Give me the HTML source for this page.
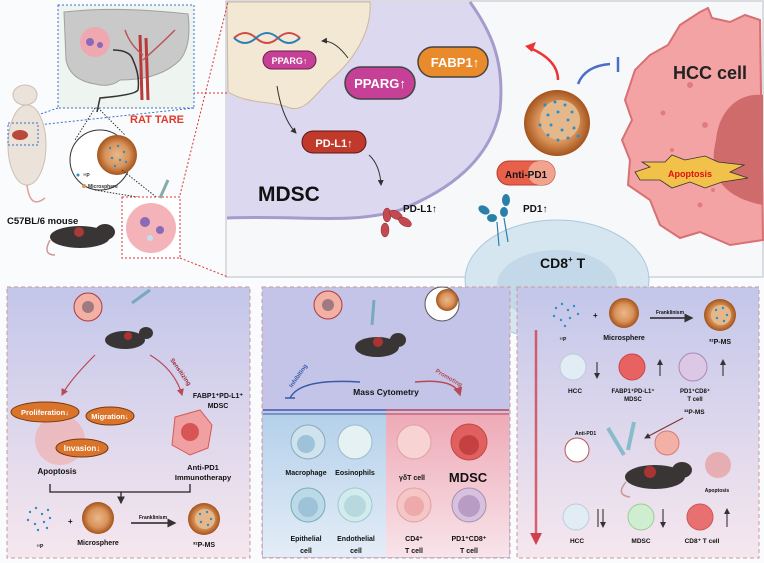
<!DOCTYPE html>
<html><head><meta charset="utf-8"><style>
html,body{margin:0;padding:0;background:#fafbfc}
svg{display:block}
text{font-family:"Liberation Sans",sans-serif;font-weight:bold}
</style></head><body>
<svg width="764" height="563" viewBox="0 0 764 563" xmlns="http://www.w3.org/2000/svg">
<defs>
<linearGradient id="pg" x1="0" y1="0" x2="0" y2="1"><stop offset="0" stop-color="#c3c6ea"/><stop offset="1" stop-color="#f6e7ee"/></linearGradient>
<linearGradient id="bl" x1="0" y1="0" x2="0" y2="1"><stop offset="0" stop-color="#b4d0ea"/><stop offset="1" stop-color="#e4edf7"/></linearGradient>
<linearGradient id="pk" x1="0" y1="0" x2="0" y2="1"><stop offset="0" stop-color="#eea9b6"/><stop offset="1" stop-color="#f8e4ea"/></linearGradient>
<radialGradient id="ms"><stop offset="0" stop-color="#e8b88a"/><stop offset="0.6" stop-color="#d9935a"/><stop offset="1" stop-color="#a4541c"/></radialGradient>
<marker id="ah" markerWidth="6" markerHeight="6" refX="5" refY="3" orient="auto"><path d="M0,0L6,3L0,6z" fill="#333"/></marker>
<marker id="ahr" markerWidth="6" markerHeight="6" refX="5" refY="3" orient="auto"><path d="M0,0L6,3L0,6z" fill="#b84a55"/></marker>
</defs>
<rect width="764" height="563" fill="#fafbfc"/>

<!-- TOP RIGHT PANEL -->
<rect x="226" y="1" width="537" height="276" fill="#f7f8fa" stroke="#cfd2d8" stroke-width="1.5"/>
<path d="M227,2 L470,2 C490,30 505,60 500,110 C490,160 450,190 400,210 C350,225 300,215 227,218 Z" fill="#dcd8ef"/>
<path d="M470,2 C490,30 505,60 500,110 C490,160 450,190 400,210 C350,225 300,215 227,218" fill="none" stroke="#a59ccd" stroke-width="3"/>
<path d="M227,2 L370,2 C372,30 355,60 330,80 C315,95 305,112 290,108 C270,100 250,105 228,92 Z" fill="#f2e8d3" stroke="#cdb79c" stroke-width="1"/>
<path d="M234,38 Q245,28 256,38 T278,38 T300,38" fill="none" stroke="#d04a4a" stroke-width="2"/>
<path d="M234,38 Q245,48 256,38 T278,38 T300,38" fill="none" stroke="#2d7fb8" stroke-width="2"/>
<rect x="263" y="51" width="53" height="18" rx="9" fill="#c54096" stroke="#6d2050"/>
<text x="289.5" y="64" font-size="9" fill="#fff" text-anchor="middle">PPARG↑</text>
<rect x="418" y="47" width="70" height="30" rx="15" fill="#e98a2b" stroke="#444" stroke-width="1.5"/>
<text x="455" y="67" font-size="13" fill="#fff" text-anchor="middle">FABP1↑</text>
<rect x="345" y="67" width="70" height="32" rx="16" fill="#c54096" stroke="#444" stroke-width="1.5"/>
<text x="380" y="88" font-size="13" fill="#fff" text-anchor="middle">PPARG↑</text>
<path d="M348,58 Q335,40 322,41" fill="none" stroke="#333" marker-end="url(#ah)"/>
<path d="M277,86 Q282,118 296,133" fill="none" stroke="#333" marker-end="url(#ah)"/>
<rect x="302" y="131" width="64" height="22" rx="11" fill="#c0392b" stroke="#5a1a15"/>
<text x="334" y="147" font-size="11" fill="#fff" text-anchor="middle">PD-L1↑</text>
<path d="M369,155 Q380,165 381,185" fill="none" stroke="#333" marker-end="url(#ah)"/>
<text x="258" y="201" font-size="21" fill="#111">MDSC</text>
<g fill="#c24a50" stroke="#8a2b30" stroke-width="0.5"><ellipse cx="387" cy="215" rx="4" ry="7"/><ellipse cx="385" cy="230" rx="4" ry="7"/><ellipse cx="396" cy="215" rx="7" ry="4" transform="rotate(30 396 215)"/><ellipse cx="405" cy="222" rx="7" ry="4" transform="rotate(30 405 222)"/></g>
<text x="403" y="212" font-size="10" fill="#111">PD-L1↑</text>
<ellipse cx="557" cy="280" rx="92" ry="60" fill="#d6e6f0" stroke="#a9c8de"/>
<ellipse cx="557" cy="285" rx="60" ry="35" fill="#c3d8e8"/>
<text x="540" y="268" font-size="14" fill="#111">CD8<tspan font-size="8" dy="-6">+</tspan><tspan dy="6"> T</tspan></text>
<g fill="#2b80aa"><ellipse cx="484" cy="210" rx="6" ry="4" transform="rotate(30 484 210)"/><ellipse cx="492" cy="218" rx="5" ry="4"/><ellipse cx="506" cy="200" rx="4" ry="6"/><ellipse cx="504" cy="212" rx="4" ry="5"/></g>
<path d="M497,222 L499,246 M504,218 L508,242" stroke="#2b80aa" stroke-width="1.2"/>
<text x="523" y="212" font-size="10" fill="#111">PD1↑</text>
<rect x="497" y="161" width="58" height="24" rx="12" fill="#e8604a" stroke="#b54030"/>
<rect x="528" y="161" width="27" height="24" rx="12" fill="#f2a38e"/>
<text x="526" y="178" font-size="10" fill="#111" text-anchor="middle">Anti-PD1</text>
<circle cx="557" cy="123" r="33" fill="url(#ms)"/>
<circle cx="560" cy="120" r="20" fill="#e5b88c"/>
<g fill="#2a8ec9"><circle cx="545" cy="105" r="1.5"/><circle cx="555" cy="102" r="1.5"/><circle cx="565" cy="105" r="1.5"/><circle cx="572" cy="112" r="1.5"/><circle cx="548" cy="115" r="1.5"/><circle cx="558" cy="112" r="1.5"/><circle cx="568" cy="120" r="1.5"/><circle cx="540" cy="125" r="1.5"/><circle cx="551" cy="125" r="1.5"/><circle cx="562" cy="130" r="1.5"/><circle cx="574" cy="128" r="1.5"/><circle cx="548" cy="135" r="1.5"/><circle cx="558" cy="140" r="1.5"/><circle cx="568" cy="138" r="1.5"/><circle cx="578" cy="136" r="1.5"/></g>
<path d="M558,80 Q558,60 530,48" fill="none" stroke="#e33" stroke-width="2.5"/><path d="M525,46 L536,42 L532,52z" fill="#e33"/>
<path d="M578,84 Q585,66 610,64" fill="none" stroke="#4b6fc8" stroke-width="2.5"/><line x1="618" y1="57" x2="618" y2="72" stroke="#4b6fc8" stroke-width="2.5"/>
<path d="M700,12 L708,8 L712,18 L730,22 L745,15 L760,20 L763,240 L730,245 L700,232 L680,238 L660,225 L650,200 L628,185 L630,160 L622,140 L632,120 L625,100 L635,70 L650,55 L668,45 L680,25 Z" fill="#f4a3a4" stroke="#d87074" stroke-width="2"/>
<path d="M763,95 C735,92 718,115 716,140 C710,165 712,195 763,205 Z" fill="#cf6b6b"/>
<g fill="#e07c7e"><circle cx="690" cy="85" r="3"/><circle cx="663" cy="113" r="2.5"/><circle cx="705" cy="125" r="3"/><circle cx="672" cy="150" r="2"/><circle cx="700" cy="205" r="2.5"/><circle cx="713" cy="190" r="2"/></g>
<text x="673" y="79" font-size="18" fill="#222">HCC cell</text>
<polygon points="635,172 650,167 642,162 665,162 672,155 685,160 705,156 718,162 744,165 730,172 748,178 722,182 705,188 690,182 672,188 660,180 640,180" fill="#f2c14a" stroke="#333" stroke-width="0.8"/>
<text x="690" y="177" font-size="9" fill="#d11" text-anchor="middle">Apoptosis</text>

<!-- TOP LEFT -->
<path d="M193,93 L228,93 M180,258 L228,277 M180,195 L228,2" stroke="#d33" stroke-dasharray="2,2" fill="none"/>
<rect x="58" y="5" width="136" height="103" fill="#eef4f0" stroke="#3a6fc8" stroke-dasharray="2,2"/>
<path d="M64,12 Q120,6 188,14 Q192,45 180,60 Q160,80 120,80 Q110,88 95,84 Q70,80 66,60 Z" fill="#c9c9c9" stroke="#a0a0a0"/>
<path d="M140,35 L142,100 M146,38 L148,100" stroke="#b83a3a" stroke-width="3"/>
<path d="M143,60 Q160,45 175,30 M143,55 Q130,45 125,30" stroke="#b8555a" stroke-width="1.5" fill="none"/>
<circle cx="95" cy="42" r="15" fill="#f0a8b0"/>
<circle cx="90" cy="42" r="4" fill="#8a6ab8"/><circle cx="100" cy="45" r="3" fill="#8a6ab8"/>
<path d="M113,50 Q130,50 133,60 Q140,75 138,90 Q135,95 100,98 L97,112" fill="none" stroke="#333" stroke-width="1.5"/>
<path d="M58,108 L8,125 M194,108 L38,125" stroke="#3a6fc8" stroke-dasharray="2,2"/>
<text x="130" y="123" font-size="11" fill="#e03a2a">RAT TARE</text>
<ellipse cx="27" cy="145" rx="19" ry="40" fill="#ebe2da" stroke="#cbbfb4"/>
<ellipse cx="25" cy="95" rx="12" ry="10" fill="#ebe2da" stroke="#cbbfb4"/>
<path d="M27,185 Q30,210 45,198" fill="none" stroke="#e0a09a" stroke-width="1.5"/>
<ellipse cx="20" cy="135" rx="8" ry="5" fill="#b84a3a"/>
<rect x="8" y="123" width="30" height="22" fill="none" stroke="#3a6fc8" stroke-dasharray="2,2"/>
<circle cx="100" cy="160" r="30" fill="#fff" stroke="#333"/>
<circle cx="117" cy="155" r="20" fill="url(#ms)"/>
<g fill="#2a8ec9"><circle cx="110" cy="148" r="1.2"/><circle cx="118" cy="146" r="1.2"/><circle cx="124" cy="152" r="1.2"/><circle cx="112" cy="158" r="1.2"/><circle cx="120" cy="160" r="1.2"/><circle cx="115" cy="166" r="1.2"/><circle cx="126" cy="162" r="1.2"/><circle cx="78" cy="175" r="1.5"/></g>
<text x="83" y="177" font-size="5" fill="#333">³²P</text>
<circle cx="84" cy="186" r="2" fill="#d9935a"/><text x="88" y="188" font-size="5" fill="#333">Microsphere</text>
<path d="M95,108 L75,140 M98,108 L125,135 M122,170 L160,200 M95,190 L155,200" stroke="#333" stroke-dasharray="1.5,1.5" fill="none"/>
<text x="7" y="224" font-size="9.5" fill="#111">C57BL/6 mouse</text>
<ellipse cx="80" cy="237" rx="30" ry="11" fill="#3a3535"/><ellipse cx="105" cy="232" rx="10" ry="8" fill="#3a3535"/>
<circle cx="79" cy="232" r="5" fill="#a83a3a"/><path d="M50,240 Q42,255 55,255" fill="none" stroke="#c99" stroke-width="1.5"/>
<rect x="122" y="197" width="58" height="61" fill="#fff" stroke="#d33" stroke-dasharray="2,2"/>
<circle cx="151" cy="228" r="25" fill="#f3b3b8"/>
<circle cx="145" cy="222" r="5" fill="#8a6ab8"/><circle cx="160" cy="230" r="4" fill="#8a6ab8"/><circle cx="150" cy="238" r="3" fill="#bfe0ee"/>
<path d="M160,198 L168,180" stroke="#8aa" stroke-width="3"/>

<!-- BOTTOM PANEL 1 -->
<rect x="7" y="287" width="243" height="271" fill="url(#pg)" stroke="#c99" stroke-dasharray="4,3"/>
<circle cx="88" cy="307" r="14" fill="#f3b0a5" stroke="#b03a3a"/><circle cx="88" cy="307" r="6" fill="#a07a80"/>
<path d="M132,303 L150,290" stroke="#7ab" stroke-width="3"/>
<ellipse cx="125" cy="340" rx="20" ry="9" fill="#3a3535"/><ellipse cx="146" cy="333" rx="7" ry="6" fill="#3a3535"/><circle cx="128" cy="336" r="4" fill="#a33"/>
<path d="M95,355 Q70,380 62,395" fill="none" stroke="#b84a55" stroke-width="1.2" marker-end="url(#ahr)"/>
<path d="M150,355 Q175,370 182,395" fill="none" stroke="#b84a55" stroke-width="1.2" marker-end="url(#ahr)"/>
<text x="170" y="360" font-size="6" fill="#9a2a3a" transform="rotate(55 170 360)">Sensitizing</text>
<text x="218" y="398" font-size="7" fill="#111" text-anchor="middle">FABP1⁺PD-L1⁺</text>
<text x="218" y="408" font-size="7" fill="#111" text-anchor="middle">MDSC</text>
<circle cx="60" cy="440" r="25" fill="#f0b0b0" opacity="0.7"/>
<ellipse cx="45" cy="412" rx="34" ry="10" fill="#d9742a" stroke="#7a3a12"/><text x="45" y="415" font-size="7.5" fill="#fff" text-anchor="middle">Proliferation↓</text>
<ellipse cx="110" cy="416" rx="24" ry="9" fill="#d9742a" stroke="#7a3a12"/><text x="110" y="419" font-size="7.5" fill="#fff" text-anchor="middle">Migration↓</text>
<ellipse cx="82" cy="448" rx="26" ry="9" fill="#d9742a" stroke="#7a3a12"/><text x="82" y="451" font-size="8" fill="#fff" text-anchor="middle">Invasion↓</text>
<text x="57" y="474" font-size="8" fill="#111" text-anchor="middle">Apoptosis</text>
<path d="M175,417 L200,410 L212,425 L208,448 L190,455 L172,445 Z" fill="#f0a0a0" stroke="#d05a5a"/><circle cx="190" cy="432" r="9" fill="#d85555"/>
<text x="203" y="470" font-size="7.5" fill="#111" text-anchor="middle">Anti-PD1</text>
<text x="203" y="480" font-size="7.5" fill="#111" text-anchor="middle">Immunotherapy</text>
<path d="M50,484 L50,492 L190,492 L190,484 M121,492 L121,503" fill="none" stroke="#222" stroke-width="1.3" marker-end="url(#ah)"/>
<g fill="#2a8ec9"><circle cx="30" cy="512" r="1.2"/><circle cx="36" cy="508" r="1.2"/><circle cx="42" cy="514" r="1.2"/><circle cx="48" cy="510" r="1.2"/><circle cx="28" cy="520" r="1.2"/><circle cx="35" cy="524" r="1.2"/><circle cx="44" cy="522" r="1.2"/><circle cx="50" cy="518" r="1.2"/><circle cx="38" cy="530" r="1.2"/><circle cx="47" cy="528" r="1.2"/></g>
<text x="68" y="524" font-size="8" fill="#111">+</text>
<circle cx="98" cy="518" r="16" fill="url(#ms)"/>
<text x="40" y="548" font-size="5" fill="#111" text-anchor="middle">³²P</text>
<text x="98" y="545" font-size="7" fill="#111" text-anchor="middle">Microsphere</text>
<line x1="131" y1="523" x2="175" y2="523" stroke="#222" stroke-width="1.5" marker-end="url(#ah)"/>
<text x="153" y="519" font-size="5" fill="#111" text-anchor="middle">Franklinism</text>
<circle cx="204" cy="519" r="16" fill="url(#ms)"/><circle cx="205" cy="519" r="10" fill="#e5b88c"/>
<g fill="#2a8ec9"><circle cx="200" cy="514" r="1.2"/><circle cx="207" cy="512" r="1.2"/><circle cx="211" cy="519" r="1.2"/><circle cx="201" cy="522" r="1.2"/><circle cx="208" cy="525" r="1.2"/></g>
<text x="204" y="547" font-size="7" fill="#111" text-anchor="middle">³²P-MS</text>

<!-- BOTTOM PANEL 2 -->
<rect x="262" y="287" width="248" height="271" fill="#c3c4e8" stroke="#c99" stroke-dasharray="4,3"/>
<rect x="263" y="413" width="123" height="144" fill="url(#bl)"/>
<rect x="386" y="413" width="123" height="144" fill="url(#pk)"/>
<line x1="263" y1="410" x2="386" y2="410" stroke="#3a5aa8" stroke-width="1.5"/><line x1="263" y1="414" x2="386" y2="414" stroke="#3a5aa8" stroke-width="1"/>
<line x1="386" y1="410" x2="509" y2="410" stroke="#c04050" stroke-width="1.5"/><line x1="386" y1="414" x2="509" y2="414" stroke="#c04050" stroke-width="1"/>
<circle cx="328" cy="305" r="14" fill="#f3b0a5" stroke="#b03a3a"/><circle cx="328" cy="305" r="6" fill="#a07a80"/>
<path d="M374,300 L372,325" stroke="#7ab" stroke-width="3"/>
<ellipse cx="377" cy="347" rx="22" ry="10" fill="#3a3535"/><ellipse cx="398" cy="340" rx="8" ry="7" fill="#3a3535"/><circle cx="378" cy="342" r="5" fill="#a33"/>
<circle cx="442" cy="304" r="17" fill="#fff" stroke="#555"/><circle cx="447" cy="300" r="11" fill="url(#ms)"/>
<path d="M290,398 Q300,378 360,382" fill="none" stroke="#3a5aa8" stroke-width="1.5"/><line x1="285" y1="398" x2="295" y2="398" stroke="#3a5aa8" stroke-width="1.5"/>
<path d="M415,382 Q455,378 460,395" fill="none" stroke="#b84a55" stroke-width="1.5" marker-end="url(#ahr)"/>
<text x="292" y="388" font-size="6" fill="#3a5aa8" transform="rotate(-55 292 388)">Inhibiting</text>
<text x="435" y="372" font-size="6" fill="#b84a55" transform="rotate(30 435 372)">Promoting</text>
<text x="386" y="395" font-size="8.5" fill="#111" text-anchor="middle">Mass Cytometry</text>
<g stroke-width="1">
<circle cx="308" cy="442" r="17" fill="#cfe3ee" stroke="#8ab"/><circle cx="306" cy="444" r="9" fill="#9ec2d8"/>
<circle cx="355" cy="442" r="17" fill="#e6f1f4" stroke="#9bc"/>
<circle cx="308" cy="505" r="17" fill="#bcd9e8" stroke="#7ab"/><circle cx="308" cy="507" r="10" fill="#9ec2d8"/>
<circle cx="355" cy="505" r="17" fill="#d4ebee" stroke="#9cc"/><circle cx="355" cy="506" r="11" fill="#b8d8e0"/>
<circle cx="414" cy="442" r="17" fill="#f7d3d3" stroke="#e0a0a0"/>
<circle cx="469" cy="442" r="18" fill="#e06060" stroke="#c04848"/><circle cx="469" cy="445" r="10" fill="#c54040"/>
<circle cx="414" cy="505" r="17" fill="#f4c6c6" stroke="#e0a0a0"/><circle cx="414" cy="506" r="10" fill="#eeaaaa"/>
<circle cx="469" cy="505" r="17" fill="#d8c0df" stroke="#a890b0"/><circle cx="469" cy="506" r="11" fill="#b89cc4"/>
</g>
<text x="306" y="475" font-size="7" fill="#111" text-anchor="middle">Macrophage</text>
<text x="355" y="475" font-size="7" fill="#111" text-anchor="middle">Eosinophils</text>
<text x="412" y="480" font-size="7" fill="#111" text-anchor="middle">γδT cell</text>
<text x="468" y="482" font-size="13" fill="#111" text-anchor="middle">MDSC</text>
<text x="306" y="541" font-size="7" fill="#111" text-anchor="middle">Epithelial</text><text x="306" y="553" font-size="7" fill="#111" text-anchor="middle">cell</text>
<text x="356" y="541" font-size="7" fill="#111" text-anchor="middle">Endothelial</text><text x="356" y="553" font-size="7" fill="#111" text-anchor="middle">cell</text>
<text x="414" y="541" font-size="7" fill="#111" text-anchor="middle">CD4⁺</text><text x="414" y="553" font-size="7" fill="#111" text-anchor="middle">T cell</text>
<text x="469" y="541" font-size="7" fill="#111" text-anchor="middle">PD1⁺CD8⁺</text><text x="469" y="553" font-size="7" fill="#111" text-anchor="middle">T cell</text>

<!-- BOTTOM PANEL 3 -->
<rect x="517" y="287" width="242" height="271" fill="url(#pg)" stroke="#c99" stroke-dasharray="4,3"/>
<line x1="536" y1="330" x2="536" y2="535" stroke="#d04050" stroke-width="2.5" opacity="0.8"/><path d="M530,533 L542,533 L536,545z" fill="#d04050"/>
<g fill="#2a8ec9"><circle cx="556" cy="308" r="1.2"/><circle cx="562" cy="304" r="1.2"/><circle cx="568" cy="310" r="1.2"/><circle cx="574" cy="306" r="1.2"/><circle cx="554" cy="316" r="1.2"/><circle cx="561" cy="320" r="1.2"/><circle cx="570" cy="318" r="1.2"/><circle cx="578" cy="314" r="1.2"/><circle cx="565" cy="326" r="1.2"/></g>
<text x="593" y="318" font-size="8" fill="#111">+</text>
<circle cx="624" cy="313" r="15" fill="url(#ms)"/>
<text x="563" y="341" font-size="5" fill="#111" text-anchor="middle">³²P</text>
<text x="624" y="340" font-size="7" fill="#111" text-anchor="middle">Microsphere</text>
<line x1="650" y1="318" x2="692" y2="318" stroke="#222" stroke-width="1.5" marker-end="url(#ah)"/>
<text x="670" y="314" font-size="5" fill="#111" text-anchor="middle">Franklinism</text>
<circle cx="720" cy="315" r="16" fill="url(#ms)"/><circle cx="721" cy="315" r="10" fill="#e5b88c"/>
<g fill="#2a8ec9"><circle cx="716" cy="310" r="1.2"/><circle cx="723" cy="308" r="1.2"/><circle cx="727" cy="315" r="1.2"/><circle cx="717" cy="318" r="1.2"/><circle cx="724" cy="321" r="1.2"/></g>
<text x="720" y="344" font-size="7" fill="#111" text-anchor="middle">³²P-MS</text>
<circle cx="573" cy="367" r="13" fill="#e2ecf4" stroke="#bcd"/>
<path d="M597,362 L597,378" stroke="#222" marker-end="url(#ah)"/>
<text x="575" y="393" font-size="6.5" fill="#111" text-anchor="middle">HCC</text>
<circle cx="632" cy="367" r="13" fill="#e86262" stroke="#c44"/>
<path d="M660,376 L660,360" stroke="#222" marker-end="url(#ah)"/>
<text x="633" y="393" font-size="6" fill="#111" text-anchor="middle">FABP1⁺PD-L1⁺</text><text x="633" y="401" font-size="6" fill="#111" text-anchor="middle">MDSC</text>
<circle cx="693" cy="367" r="14" fill="#dcc8e4" stroke="#a8b"/>
<path d="M723,376 L723,360" stroke="#222" marker-end="url(#ah)"/>
<text x="695" y="393" font-size="6" fill="#111" text-anchor="middle">PD1⁺CD8⁺</text><text x="695" y="401" font-size="6" fill="#111" text-anchor="middle">T cell</text>
<text x="684" y="414" font-size="6.5" fill="#111">³²P-MS</text>
<path d="M683,418 Q660,430 645,438" stroke="#7a3030" fill="none" marker-end="url(#ah)"/>
<text x="575" y="435" font-size="5" fill="#111">Anti-PD1</text>
<circle cx="577" cy="450" r="12" fill="#fff" stroke="#b55"/>
<path d="M608,428 L624,455 M634,422 L628,450" stroke="#8bc" stroke-width="4"/>
<circle cx="667" cy="443" r="12" fill="#f3b0a5" stroke="#d77"/>
<circle cx="718" cy="465" r="13" fill="#e79a9a" opacity="0.7"/>
<text x="717" y="492" font-size="5" fill="#111" text-anchor="middle">Apoptosis</text>
<ellipse cx="655" cy="477" rx="30" ry="12" fill="#3a3535"/><ellipse cx="682" cy="470" rx="10" ry="8" fill="#3a3535"/>
<circle cx="650" cy="472" r="6" fill="#a33"/>
<path d="M626,482 Q615,495 630,497" fill="none" stroke="#c99" stroke-width="1.5"/>
<circle cx="576" cy="517" r="13" fill="#e2ecf4" stroke="#bcd"/>
<path d="M598,509 L598,527 M603,509 L603,527" stroke="#222" marker-end="url(#ah)"/>
<text x="577" y="543" font-size="6.5" fill="#111" text-anchor="middle">HCC</text>
<circle cx="641" cy="517" r="13" fill="#cfeecf" stroke="#9c9"/>
<path d="M663,509 L663,527" stroke="#222" marker-end="url(#ah)"/>
<text x="641" y="543" font-size="6.5" fill="#111" text-anchor="middle">MDSC</text>
<circle cx="700" cy="517" r="13" fill="#e87070" stroke="#c55"/>
<path d="M727,527 L727,509" stroke="#222" marker-end="url(#ah)"/>
<text x="702" y="543" font-size="6.5" fill="#111" text-anchor="middle">CD8⁺ T cell</text>
</svg>
</body></html>
